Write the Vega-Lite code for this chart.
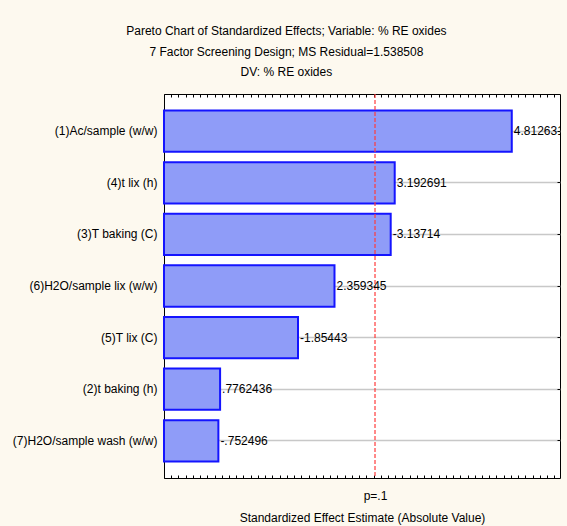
{
  "$schema": "https://vega.github.io/schema/vega-lite/v6.json",
  "autosize": {"type": "none"},
  "padding": {"left": 164, "top": 94, "right": 7, "bottom": 48},
  "width": 396,
  "height": 384,
  "background": "#fdf9ef",
  "config": {
    "font": "Liberation Sans",
    "view": {"fill": "#ffffff", "stroke": "#000000", "strokeWidth": 1},
    "axis": {
      "labelFont": "Liberation Sans",
      "titleFont": "Liberation Sans",
      "labelFontSize": 12,
      "titleFontSize": 12,
      "titleFontWeight": "normal",
      "labelColor": "#000000",
      "titleColor": "#000000",
      "domainColor": "#000000",
      "tickColor": "#000000"
    }
  },
  "title": {
    "text": [
      "Pareto Chart of Standardized Effects; Variable: % RE oxides",
      "7 Factor Screening Design; MS Residual=1.538508",
      "DV: % RE oxides"
    ],
    "font": "Liberation Sans",
    "fontSize": 12,
    "fontWeight": "normal",
    "color": "#000000",
    "anchor": "middle",
    "frame": "bounds",
    "lineHeight": 20.5,
    "offset": 14
  },
  "datasets": {
    "effects": [
      {"factor": "(1)Ac/sample (w/w)", "effect": 4.812631, "absEffect": 4.812631, "label": "4.812631"},
      {"factor": "(4)t lix (h)", "effect": 3.192691, "absEffect": 3.192691, "label": "3.192691"},
      {"factor": "(3)T baking (C)", "effect": -3.13714, "absEffect": 3.13714, "label": "-3.13714"},
      {"factor": "(6)H2O/sample lix (w/w)", "effect": 2.359345, "absEffect": 2.359345, "label": "2.359345"},
      {"factor": "(5)T lix (C)", "effect": -1.85443, "absEffect": 1.85443, "label": "-1.85443"},
      {"factor": "(2)t baking (h)", "effect": 0.7762436, "absEffect": 0.7762436, "label": ".7762436"},
      {"factor": "(7)H2O/sample wash (w/w)", "effect": -0.752496, "absEffect": 0.752496, "label": "-.752496"}
    ],
    "critical": [
      {"level": "p=.1", "tValue": 2.919986}
    ]
  },
  "resolve": {"axis": {"x": "independent", "y": "independent"}},
  "layer": [
    {
      "data": {"name": "effects"},
      "mark": {"type": "bar", "fill": "#8f9cf8", "stroke": "#1414ff", "strokeWidth": 2},
      "encoding": {
        "y": {
          "field": "factor",
          "type": "nominal",
          "sort": null,
          "scale": {"paddingInner": 0.2, "paddingOuter": 0.32},
          "axis": {
            "orient": "left",
            "title": null,
            "ticks": false,
            "domain": false,
            "labelPadding": 7,
            "grid": true,
            "gridColor": "#c8c8c8",
            "gridWidth": 1.5
          }
        },
        "x": {
          "field": "absEffect",
          "type": "quantitative",
          "scale": {"domain": [0, 5.48], "nice": false, "zero": true},
          "axis": {
            "orient": "bottom",
            "title": null,
            "labels": false,
            "grid": false,
            "domain": false,
            "tickCount": 55,
            "tickSize": -3
          }
        }
      }
    },
    {
      "data": {"name": "critical"},
      "mark": {"type": "rule", "color": "#ff3c3c", "strokeWidth": 1.2, "strokeDash": [4, 2]},
      "encoding": {
        "x": {
          "field": "tValue",
          "type": "quantitative",
          "scale": {"domain": [0, 5.48], "nice": false},
          "axis": {
            "orient": "bottom",
            "values": [2.919986],
            "labelExpr": "'p=.1'",
            "ticks": false,
            "domain": false,
            "grid": false,
            "labelPadding": 12,
            "title": "Standardized Effect Estimate (Absolute Value)",
            "titlePadding": 11
          }
        }
      }
    },
    {
      "data": {"name": "effects"},
      "mark": {"type": "text", "align": "left", "baseline": "middle", "dx": 2, "fontSize": 12, "color": "#000000", "clip": true},
      "encoding": {
        "y": {
          "field": "factor",
          "type": "nominal",
          "sort": null,
          "axis": {
            "orient": "right",
            "title": null,
            "labels": false,
            "domain": false,
            "grid": false,
            "tickSize": -3
          }
        },
        "x": {
          "field": "absEffect",
          "type": "quantitative",
          "scale": {"domain": [0, 5.48], "nice": false},
          "axis": {
            "orient": "top",
            "title": null,
            "labels": false,
            "grid": false,
            "domain": false,
            "tickCount": 55,
            "tickSize": -3
          }
        },
        "text": {"field": "label", "type": "nominal"}
      }
    }
  ]
}
